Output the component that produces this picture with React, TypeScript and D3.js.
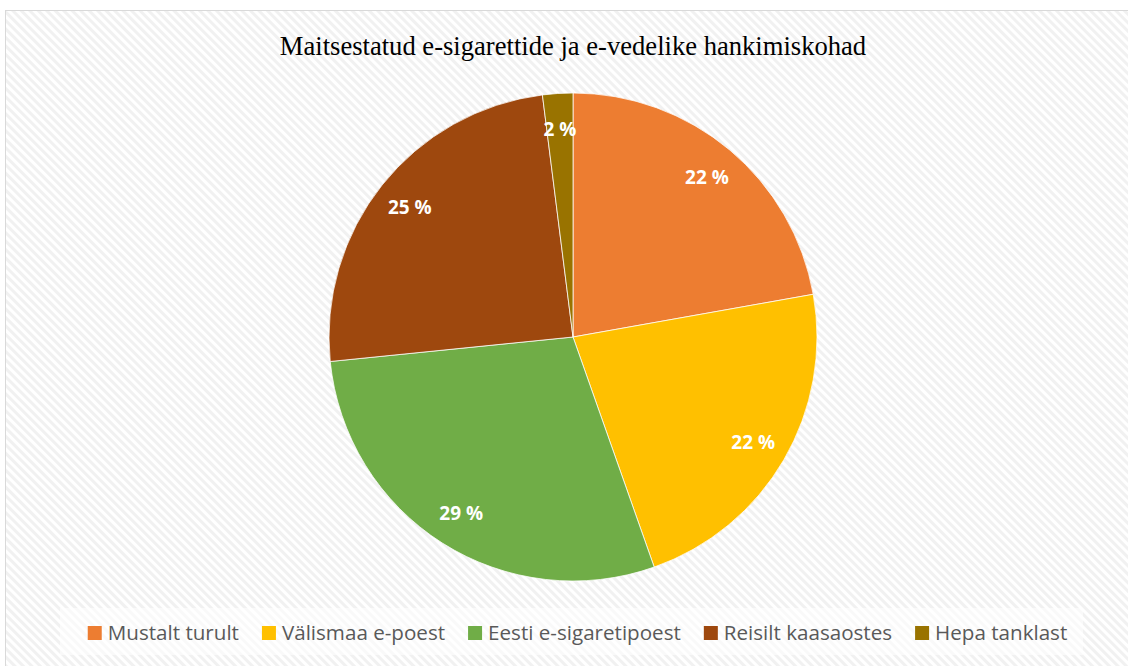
import React from "react";
import { pie, arc, PieArcDatum } from "d3";

const categories = ["Mustalt turult", "Välismaa e-poest", "Eesti e-sigaretipoest", "Reisilt kaasaostes", "Hepa tanklast"];
const shares = [22.2, 22.4, 28.8, 24.6, 2.0];
const colors = ["#ED7D31", "#FFC000", "#70AD47", "#9E480E", "#997300"];
const title = "Maitsestatud e-sigarettide ja e-vedelike hankimiskohad";

const W = 1128;
const H = 666;
const cx = 573;
const cy = 337;
const R = 244;
const legendSize = 20.6;
const legendFont = `${legendSize}px 'Open Sans'`;

function textWidth(s: string, font: string) {
  const ctx = document.createElement("canvas").getContext("2d");
  if (!ctx) return s.length * 9;
  ctx.font = font;
  return ctx.measureText(s).width;
}

export default function App() {
  const slices = pie<number>().sort(null).value((d) => d)(shares);
  const arcGen = arc<PieArcDatum<number>>().innerRadius(0).outerRadius(R);
  const labelArc = arc<PieArcDatum<number>>().innerRadius(R * 0.855).outerRadius(R * 0.855);

  // legend layout, centred under the pie
  const sq = 14;
  const gapText = 6;
  const gapItem = 23;
  const widths = categories.map((c) => sq + gapText + textWidth(c, legendFont));
  const total = widths.reduce((a, b) => a + b, 0) + gapItem * (categories.length - 1);
  let lx = 577.5 - total / 2;
  const legendX = widths.map((w) => {
    const x = lx;
    lx += w + gapItem;
    return x;
  });

  return (
    <svg width={W} height={H} style={{ position: "absolute", left: 0, top: 0 }}>
      <defs>
        <pattern id="hatch" width="6" height="6" patternUnits="userSpaceOnUse" patternTransform="rotate(-45)">
          <rect width="6" height="6" fill="#ffffff" />
          <rect width="3" height="6" fill="#f1f1f1" />
        </pattern>
      </defs>
      <rect x={0} y={0} width={W} height={H} fill="#ffffff" />
      <rect x={5.5} y={10.5} width={W + 10} height={H} fill="url(#hatch)" stroke="#d9d9d9" strokeWidth={1} />

      <text
        x={cx}
        y={55}
        textAnchor="middle"
        fontFamily="'Liberation Serif', 'Times New Roman', serif"
        fontSize={26.6}
        fill="#000000"
      >
        {title}
      </text>

      <g transform={`translate(${cx},${cy})`}>
        {slices.map((s, i) => (
          <path key={i} d={arcGen(s) ?? ""} fill={colors[i]} stroke="#ffffff" strokeWidth={0.75} />
        ))}
        {slices.map((s, i) => {
          const [x, y] = labelArc.centroid(s);
          return (
            <text
              key={i}
              x={x}
              y={y}
              dy="0.38em"
              textAnchor="middle"
              fontFamily="'Open Sans', sans-serif"
              fontWeight="bold"
              fontSize={19}
              fill="#ffffff"
            >
              {`${Math.round(shares[i])} %`}
            </text>
          );
        })}
      </g>

      <rect x={60} y={608} width={1023} height={47} fill="#ffffff" fillOpacity={0.6} />
      {categories.map((c, i) => (
        <g key={c} transform={`translate(${legendX[i]},633)`}>
          <rect x={0} y={-7} width={sq} height={sq} fill={colors[i]} />
          <text
            x={sq + gapText}
            y={0}
            dy="0.35em"
            fontFamily="'Open Sans', sans-serif"
            fontSize={legendSize}
            fill="#595959"
          >
            {c}
          </text>
        </g>
      ))}
    </svg>
  );
}
